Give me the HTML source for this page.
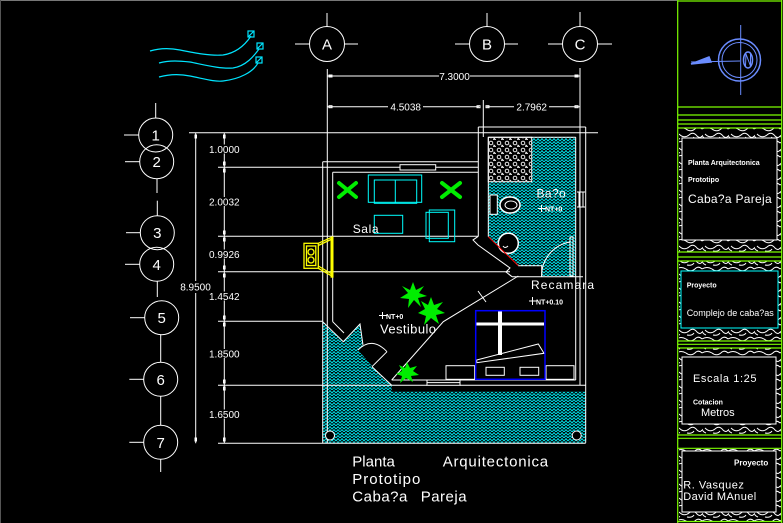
<!DOCTYPE html>
<html><head><meta charset="utf-8"><style>
html,body{margin:0;padding:0;background:#000;}
svg{display:block}
text{font-family:"Liberation Sans",sans-serif;fill:#fff}
</style></head><body>
<svg width="783" height="523" viewBox="0 0 783 523" xmlns="http://www.w3.org/2000/svg">
<defs>
<pattern id="hb" width="8" height="6" patternUnits="userSpaceOnUse">
<path d="M0,3 L2,0.6 L4,3 L6,0.6 L8,3 M0,6 L2,3.6 L4,6 L6,3.6 L8,6" fill="none" stroke="#00e8f0" stroke-width="1"/>
</pattern>
<pattern id="stone" width="26" height="14" patternUnits="userSpaceOnUse">
<path d="M0,3 Q5,0 10,3 Q15,7 20,2 Q23,0 26,3 M3,8 Q8,13 13,9 Q17,5 21,10 Q24,13 26,10 M0,9 Q1,12 4,13 M11,13 Q16,14 18,11" fill="none" stroke="#fff" stroke-width="1"/>
</pattern>
<pattern id="peb" width="8" height="7" patternUnits="userSpaceOnUse">
<circle cx="3" cy="3" r="1.8" fill="none" stroke="#fff" stroke-width="0.9"/>
<path d="M6,5 l1.5,1.5 l-2,0.5z" fill="none" stroke="#fff" stroke-width="0.8"/>
</pattern>
</defs>
<rect width="783" height="523" fill="#000"/>
<line x1="0" y1="0.5" x2="677" y2="0.5" stroke="#777" stroke-width="1"/>
<line x1="0.5" y1="0" x2="0.5" y2="523" stroke="#555" stroke-width="1"/>

<!-- wind lines -->
<g fill="none" stroke="#00e5ff" stroke-width="1.2">
<path d="M150,51 C160,48 170,48 180,50 C195,53 210,56 223,55 C236,53 245,45 251,36"/>
<path d="M159,63 C170,60 180,61 190,62 C205,65 220,69 233,68 C246,66 254,56 259,49"/>
<path d="M159,77 C170,74 180,74 190,76 C205,79 215,82 223,81 C240,79 253,72 258,63"/>
<rect x="248" y="31" width="6" height="6"/><line x1="248" y1="37" x2="254" y2="31"/>
<rect x="257" y="43" width="6" height="6"/><line x1="257" y1="49" x2="263" y2="43"/>
<rect x="256" y="57" width="6" height="6"/><line x1="256" y1="63" x2="262" y2="57"/>
</g>

<!-- hatch areas -->
<polygon points="322.7,321.7 343.3,341.7 360,324 363,346 358,350 372,366 385,380 391.7,385 391.7,391.7 585.7,391.7 585.7,442.7 322.7,442.7" fill="url(#hb)"/>
<polygon points="488.3,137.3 575.7,137.3 575.7,276.7 541.7,276.7 541.7,265.7 518.3,265.7 488.3,236.7" fill="url(#hb)"/>
<rect x="488.3" y="137.3" width="43.4" height="44.4" fill="#000"/>
<rect x="489" y="138" width="42" height="43" fill="url(#peb)"/>

<g fill="none" stroke="#fff" stroke-width="1">
<!-- grid bubbles top -->
<circle cx="327" cy="44" r="17.5"/><line x1="327" y1="13" x2="327" y2="26.5"/><line x1="295" y1="44" x2="309.5" y2="44"/><line x1="344.5" y1="44" x2="358" y2="44"/>
<circle cx="487" cy="44" r="17.5"/><line x1="487" y1="13" x2="487" y2="26.5"/><line x1="455" y1="44" x2="469.5" y2="44"/><line x1="504.5" y1="44" x2="518" y2="44"/>
<circle cx="580" cy="44" r="17.5"/><line x1="580" y1="12" x2="580" y2="26.5"/><line x1="548" y1="44" x2="562.5" y2="44"/><line x1="597.5" y1="44" x2="612" y2="44"/>
<!-- ext lines -->
<line x1="327.3" y1="69" x2="327.3" y2="443"/>
<line x1="580" y1="68" x2="580" y2="385"/>
<line x1="483.3" y1="100" x2="483.3" y2="137"/>
<!-- dims top -->
<line x1="327" y1="76" x2="439" y2="76"/><line x1="470" y1="76" x2="580" y2="76"/>
<line x1="327" y1="106.7" x2="388" y2="106.7"/><line x1="423" y1="106.7" x2="479" y2="106.7"/>
<line x1="486.7" y1="106.7" x2="514" y2="106.7"/><line x1="549" y1="106.7" x2="580" y2="106.7"/>
<rect x="329" y="75" width="3" height="2"/><rect x="575" y="75" width="3" height="2"/>
<rect x="329" y="105.7" width="3" height="2"/><rect x="477" y="105.7" width="3" height="2"/><rect x="486" y="105.7" width="3" height="2"/><rect x="575" y="105.7" width="3" height="2"/>

<!-- left bubbles -->
<circle cx="155.7" cy="135" r="17"/><line x1="124" y1="135" x2="138.7" y2="135"/><line x1="155.7" y1="103" x2="155.7" y2="118"/>
<circle cx="156.7" cy="161.7" r="17"/><line x1="125" y1="161.7" x2="139.7" y2="161.7"/>
<line x1="157" y1="178.7" x2="157" y2="193"/><line x1="157.3" y1="200.7" x2="157.3" y2="215.7"/>
<circle cx="157.3" cy="232.7" r="17"/><line x1="126" y1="232.7" x2="140.3" y2="232.7"/>
<circle cx="156.7" cy="264.3" r="17"/><line x1="125" y1="264.3" x2="139.7" y2="264.3"/>
<line x1="157.3" y1="281.3" x2="157.3" y2="297"/>
<circle cx="161.7" cy="317.7" r="17"/><line x1="130" y1="317.7" x2="144.7" y2="317.7"/>
<line x1="160.7" y1="334.7" x2="160.7" y2="362.3"/>
<circle cx="160.7" cy="379.3" r="17"/><line x1="129.3" y1="379.3" x2="143.7" y2="379.3"/>
<line x1="160.7" y1="396.3" x2="160.7" y2="425.3"/>
<circle cx="160.7" cy="442.3" r="17"/><line x1="129.3" y1="442.3" x2="143.7" y2="442.3"/>
<line x1="160.7" y1="459.3" x2="160.7" y2="472"/>

<!-- horizontal grid lines -->
<line x1="189" y1="132.7" x2="598" y2="132.7"/>
<line x1="218" y1="167.3" x2="400" y2="167.3"/><line x1="436" y1="167.3" x2="478.3" y2="167.3"/>
<line x1="218" y1="236.3" x2="478.3" y2="236.3"/>
<line x1="218" y1="271.7" x2="510" y2="271.7"/>
<line x1="218" y1="321.3" x2="322.7" y2="321.3"/>
<line x1="218" y1="385.3" x2="427" y2="385.3"/><line x1="460" y1="385.3" x2="585.7" y2="385.3"/>
<line x1="218" y1="443.3" x2="585.7" y2="443.3"/>
<!-- vertical dims -->
<line x1="195.7" y1="132.7" x2="195.7" y2="281"/><line x1="195.7" y1="293" x2="195.7" y2="443.3"/>
<line x1="224.3" y1="132.7" x2="224.3" y2="443.3"/>
<rect x="195" y="135" width="1.5" height="3"/><rect x="195" y="438" width="1.5" height="3"/>
<rect x="223.5" y="135" width="1.6" height="3"/><rect x="223.5" y="162" width="1.6" height="3"/><rect x="223.5" y="169" width="1.6" height="3"/>
<rect x="223.5" y="231" width="1.6" height="3"/><rect x="223.5" y="238" width="1.6" height="3"/>
<rect x="223.5" y="266" width="1.6" height="3"/><rect x="223.5" y="274" width="1.6" height="3"/>
<rect x="223.5" y="316" width="1.6" height="3"/><rect x="223.5" y="323" width="1.6" height="3"/>
<rect x="223.5" y="380" width="1.6" height="3"/><rect x="223.5" y="387" width="1.6" height="3"/>
<rect x="223.5" y="438" width="1.6" height="3"/>

<!-- living walls -->
<line x1="322.7" y1="161.7" x2="322.7" y2="321.7"/>
<line x1="332.7" y1="172.3" x2="332.7" y2="321.7"/>
<line x1="322.7" y1="161.7" x2="478.3" y2="161.7"/>
<line x1="332.7" y1="172.3" x2="478.3" y2="172.3"/>
<rect x="400" y="164.7" width="35.7" height="5.3"/>
<line x1="478.3" y1="127" x2="478.3" y2="236.3"/>
<line x1="478.3" y1="127" x2="585.7" y2="127"/>
<line x1="585.7" y1="127" x2="585.7" y2="442.7"/>
<line x1="322.7" y1="321.7" x2="322.7" y2="443.3"/>
<line x1="575.7" y1="137.3" x2="575.7" y2="380"/>
<line x1="488.3" y1="137.3" x2="575.7" y2="137.3"/>
<line x1="488.3" y1="137.3" x2="488.3" y2="236.7"/>
<rect x="488.3" y="137.3" width="43.4" height="44.4"/>
<polyline points="478.3,236.3 473,240 478,245 510,268 506,272 512,276.7"/>
<polyline points="518.3,265.7 541.7,265.7 541.7,276.7"/>
<line x1="512" y1="276.7" x2="583" y2="276.7"/>
<path d="M570,242 A34,34 0 0,0 541.7,276.7"/>
<rect x="570" y="237" width="3" height="39"/>
<line x1="577" y1="192" x2="585" y2="192"/><line x1="577" y1="207" x2="585" y2="207"/>
<line x1="579" y1="192" x2="579" y2="207"/><line x1="583" y1="192" x2="583" y2="207"/>
<!-- toilet sink -->
<rect x="490" y="195" width="7.3" height="19.3" fill="#000"/>
<ellipse cx="510" cy="205" rx="10" ry="8" fill="#000" stroke-width="1.5"/>
<ellipse cx="511" cy="205" rx="6" ry="4"/>
<circle cx="508.3" cy="243.3" r="10" fill="#000" stroke-width="1.5"/>
<path d="M503,246 q2,3 5,0"/>
<!-- bottom walls -->
<line x1="391.7" y1="380" x2="427" y2="380"/><line x1="460" y1="380" x2="575.7" y2="380"/>
<rect x="427" y="380" width="33" height="5.3"/><line x1="427" y1="382.6" x2="460" y2="382.6"/>
<!-- entrance -->
<polyline points="391.7,380 443.3,321.7 518.3,276"/>
<line x1="478" y1="291" x2="486" y2="302"/>
<polyline points="322.7,321.7 343.3,341.7 360,324 363,345"/>
<polyline points="332.7,321.7 344,333"/>
<path d="M358,350 Q372,336 387,351.7"/>
<line x1="387" y1="351.7" x2="372" y2="366.7"/>
<line x1="372" y1="366.7" x2="391.7" y2="385.3"/>
<!-- bed -->
<rect x="446" y="365.7" width="28.7" height="13.6"/>
<rect x="546" y="365.7" width="28" height="13.6"/>
<polygon points="476.7,360 538.3,344 544,353.3 476.7,362.7"/>
<rect x="486" y="367.3" width="18.3" height="8"/>
<rect x="520" y="367.3" width="18.7" height="8"/>
<!-- circles -->
<circle cx="330" cy="435.5" r="4.5" fill="#000"/>
<circle cx="576.7" cy="435.5" r="4.5" fill="#000"/>
</g>
<rect x="498" y="311" width="4" height="44" fill="#fff"/>
<rect x="476" y="322.5" width="68" height="3" fill="#fff"/>
<rect x="475.7" y="310.7" width="69.3" height="68.6" fill="none" stroke="#0000ff" stroke-width="1.5"/>
<line x1="488.3" y1="236.7" x2="518.3" y2="265.7" stroke="#ff0000" stroke-width="1"/>

<!-- bubble labels -->
<g font-size="15" text-anchor="middle">
<text x="327" y="49.5">A</text>
<text x="487" y="49.5">B</text>
<text x="580" y="49.5">C</text>
<text x="155.7" y="140.5">1</text>
<text x="156.7" y="167.2">2</text>
<text x="157.3" y="238.2">3</text>
<text x="156.7" y="269.8">4</text>
<text x="161.7" y="323.2">5</text>
<text x="160.7" y="384.8">6</text>
<text x="160.7" y="447.8">7</text>
</g>

<!-- living furniture -->
<g fill="none" stroke="#00ffff" stroke-width="1">
<rect x="368.3" y="175" width="53.4" height="27.3"/>
<rect x="374.3" y="180" width="42.4" height="23.3"/>
<line x1="395.3" y1="180" x2="395.3" y2="203.3"/>
<rect x="374.3" y="215.3" width="28.4" height="18"/>
<rect x="426" y="212.3" width="22.3" height="26"/>
<rect x="429.3" y="210" width="25.4" height="31.7"/>
</g>
<!-- plants -->
<g stroke="#00ee00" stroke-width="4" stroke-linecap="round">
<line x1="339" y1="183" x2="356" y2="197"/><line x1="356" y1="183" x2="339" y2="197"/>
<line x1="442" y1="183" x2="460" y2="197"/><line x1="460" y1="183" x2="442" y2="197"/>
</g>
<g fill="#00ee00">
<polygon points="413,282 416,290 424,286 419,293 427,296 418,298 421,307 414,300 408,308 409,299 400,298 408,293 402,286 410,290"/>
<polygon points="431,297 434,305 443,302 437,309 445,313 436,315 439,324 431,318 424,325 426,316 418,313 425,309 421,301 428,305"/>
<polygon points="407,362 410,368 417,366 413,371 419,375 411,376 413,382 406,378 400,383 402,376 396,374 402,371 399,365 405,368"/>
</g>

<!-- fireplace -->
<g fill="none" stroke="#ffff00" stroke-width="1.3">
<rect x="304" y="243.3" width="14.3" height="25"/>
<rect x="306.5" y="246" width="9.3" height="19.5"/>
<circle cx="311" cy="252" r="3"/><circle cx="311" cy="260" r="3"/>
<line x1="318.3" y1="243.3" x2="333" y2="236.7"/><line x1="318.3" y1="245.5" x2="331" y2="239.5"/>
<line x1="318.3" y1="268.3" x2="333" y2="276.7"/><line x1="318.3" y1="266" x2="331" y2="273.5"/>
</g>
<rect x="330.5" y="236.7" width="3" height="41" fill="#ffff00"/>

<!-- dim texts -->
<g font-size="10" text-anchor="middle">
<text x="454.5" y="80">7.3000</text>
<text x="405.7" y="110.5">4.5038</text>
<text x="531.7" y="110.5">2.7962</text>
<rect x="181" y="282" width="29" height="10" fill="#000"/>
<text x="195.5" y="290.5">8.9500</text>
<rect x="209" y="144.5" width="31" height="9" fill="#000"/><text x="224.3" y="153">1.0000</text>
<rect x="209" y="197" width="31" height="9" fill="#000"/><text x="224.3" y="205.5">2.0032</text>
<rect x="209" y="249.5" width="31" height="9" fill="#000"/><text x="224.3" y="258">0.9926</text>
<rect x="209" y="291.5" width="31" height="9" fill="#000"/><text x="224.3" y="300">1.4542</text>
<rect x="209" y="349" width="31" height="9" fill="#000"/><text x="224.3" y="357.3">1.8500</text>
<rect x="209" y="409.5" width="31" height="9" fill="#000"/><text x="224.3" y="418">1.6500</text>
</g>

<!-- room labels -->
<text x="352.7" y="233" font-size="12" letter-spacing="0.6">Sala</text>
<text x="536.5" y="197.5" font-size="12" letter-spacing="0.4">Ba?o</text>
<text x="531" y="289" font-size="12" letter-spacing="1.1">Recamara</text>
<text x="380" y="333.3" font-size="13" letter-spacing="0.4">Vestibulo</text>
<g font-size="7" font-weight="bold">
<text x="545" y="211.5">NT+0</text>
<text x="536" y="304.5">NT+0.10</text>
<text x="386" y="319">NT+0</text>
</g>
<g stroke="#fff" stroke-width="1">
<line x1="538" y1="208.5" x2="546" y2="208.5"/><line x1="541.5" y1="205" x2="541.5" y2="212"/>
<line x1="529" y1="301" x2="537" y2="301"/><line x1="532.5" y1="297" x2="532.5" y2="305"/>
<line x1="379" y1="315.5" x2="387" y2="315.5"/><line x1="382.5" y1="312" x2="382.5" y2="319"/>
</g>

<!-- bottom title -->
<g font-size="15">
<text x="352.3" y="466.7">Planta</text>
<text x="442.7" y="466.7" letter-spacing="0.8">Arquitectonica</text>
<text x="352.3" y="484" letter-spacing="1">Prototipo</text>
<text x="352.3" y="501.7" letter-spacing="0.5">Caba?a</text>
<text x="420.7" y="501.7" letter-spacing="0.5">Pareja</text>
</g>

<!-- right panel -->
<rect x="679" y="128" width="102" height="124" fill="url(#stone)"/>
<rect x="679" y="261" width="102" height="80" fill="url(#stone)"/>
<rect x="679" y="348" width="102" height="87" fill="url(#stone)"/>
<rect x="679" y="448" width="102" height="73" fill="url(#stone)"/>
<rect x="682" y="138" width="95" height="102" fill="#000" stroke="#fff" stroke-width="1"/>
<rect x="681" y="271" width="97" height="57" fill="#000" stroke="#00ffff" stroke-width="1"/>
<rect x="682" y="357" width="94" height="67" fill="#000" stroke="#fff" stroke-width="1"/>
<rect x="682" y="451" width="94" height="61" fill="#000" stroke="#fff" stroke-width="1"/>
<g stroke="#7cfc00" stroke-width="1.2" fill="none">
<line x1="677.7" y1="0" x2="677.7" y2="523"/>
<line x1="781.7" y1="0" x2="781.7" y2="523"/>
<line x1="677.7" y1="1" x2="781.7" y2="1"/>
<line x1="677.7" y1="107" x2="781.7" y2="107"/>
<line x1="677.7" y1="115" x2="781.7" y2="115"/>
<line x1="677.7" y1="120" x2="781.7" y2="120"/>
<line x1="677.7" y1="124" x2="781.7" y2="124"/>
<line x1="677.7" y1="128" x2="781.7" y2="128"/>
<line x1="677.7" y1="252" x2="781.7" y2="252"/>
<line x1="677.7" y1="257" x2="781.7" y2="257"/>
<line x1="677.7" y1="261" x2="781.7" y2="261"/>
<line x1="677.7" y1="341" x2="781.7" y2="341"/>
<line x1="677.7" y1="344.3" x2="781.7" y2="344.3"/>
<line x1="677.7" y1="348" x2="781.7" y2="348"/>
<line x1="677.7" y1="435" x2="781.7" y2="435"/>
<line x1="677.7" y1="438.3" x2="781.7" y2="438.3"/>
<line x1="677.7" y1="448.3" x2="781.7" y2="448.3"/>
<line x1="677.7" y1="521.5" x2="781.7" y2="521.5"/>
</g>
<!-- compass -->
<g stroke="#6a8cff" stroke-width="1.5" fill="none">
<circle cx="739.5" cy="60" r="21"/>
<circle cx="739.5" cy="60" r="17.5" stroke-width="1"/>
<line x1="740.7" y1="25" x2="740.7" y2="95" stroke-width="1"/>
<line x1="691" y1="62" x2="740" y2="61" stroke-width="1"/>
<polygon points="691,64 709,57 711,62" fill="#6a8cff"/>
<ellipse cx="748" cy="60" rx="4.5" ry="8"/>
<path d="M745.5,66 L746,54 L750.5,66 L750.5,54" stroke-width="1"/>
</g>
<g>
<text x="688" y="165" font-size="7" font-weight="bold" font-family="Liberation Serif, serif">Planta Arquitectonica</text>
<text x="688" y="182" font-size="7" font-weight="bold">Prototipo</text>
<text x="688" y="203" font-size="12" letter-spacing="0.3">Caba?a Pareja</text>
<text x="686.7" y="287.3" font-size="7" font-weight="bold" font-family="Liberation Serif, serif">Proyecto</text>
<text x="686.7" y="316" font-size="9">Complejo de caba?as</text>
<text x="693" y="382" font-size="11" letter-spacing="0.6">Escala 1:25</text>
<text x="693" y="404.3" font-size="7" font-weight="bold" font-family="Liberation Serif, serif">Cotacion</text>
<text x="701" y="416" font-size="11">Metros</text>
<text x="734" y="465.5" font-size="8" font-weight="bold" font-family="Liberation Serif, serif">Proyecto</text>
<text x="683.3" y="488.5" font-size="11" letter-spacing="0.5">R. Vasquez</text>
<text x="683.3" y="500" font-size="11" letter-spacing="0.4">David MAnuel</text>
</g>
</svg>
</body></html>
